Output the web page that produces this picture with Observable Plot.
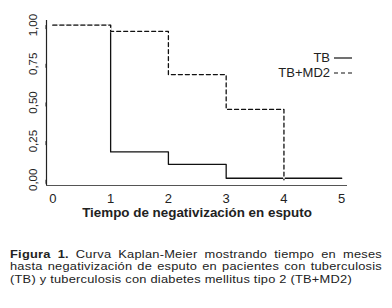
<!DOCTYPE html>
<html>
<head>
<meta charset="utf-8">
<script src="https://cdn.jsdelivr.net/npm/d3@7"></script>
<script src="https://cdn.jsdelivr.net/npm/@observablehq/plot@0.6"></script>
<style>
  html, body { margin: 0; padding: 0; background: #fff; }
  #wrap { position: relative; width: 392px; font-family: "Liberation Sans", Arial, sans-serif; }
  #legend { position: absolute; right: 40px; top: 50px; font-size: 13px; color: #222; }
  #legend .row { display: flex; align-items: center; justify-content: flex-end; height: 15px; }
  #legend svg { margin-left: 4px; }
  #caption { margin: 16px 0 0 10px; width: 310px; letter-spacing: 0.2px;
             transform: scaleX(1.2); transform-origin: 0 0;
             font-size: 10.7px; line-height: 12.3px; color: #222; }
  #caption .j { text-align: justify; text-align-last: justify; white-space: nowrap; }
  #caption b { font-weight: bold; }
</style>
</head>
<body>
<div id="wrap">
  <div id="chart"></div>
  <div id="legend"></div>
  <div id="caption"></div>
</div>
<script>
// Series
const seriesNames = ["TB", "TB+MD2"];
const tbTimes = [0, 1, 2, 3, 5];
const tbSurvival = [1, 0.18, 0.10, 0.01, 0.01];
const md2Times = [0, 1, 2, 3, 4];
const md2Survival = [1, 0.96, 0.68, 0.455, 0];
// Ticks
const xTicks = [0, 1, 2, 3, 4, 5];
const yTicks = [0, 0.25, 0.5, 0.75, 1];
const yTickLabels = ["0,00", "0,25", "0,50", "0,75", "1,00"];
const xLabel = "Tiempo de negativización en esputo";
// Caption lines
const captionLead = "Figura 1.";
const captionLines = [
  " Curva Kaplan-Meier mostrando tiempo en meses",
  "hasta negativización de esputo en pacientes con tuberculosis",
  "(TB) y tuberculosis con diabetes mellitus tipo 2 (TB+MD2)"
];

const tb = tbTimes.map((t, i) => ({t, s: tbSurvival[i]}));
const md2 = md2Times.map((t, i) => ({t, s: md2Survival[i]}));

const xDomain = [-0.11, 5.1];
const yDomain = [-0.037, 1.03];

const chart = Plot.plot({
  width: 392,
  height: 232,
  marginLeft: 46,
  marginRight: 45,
  marginTop: 20,
  marginBottom: 47,
  style: { fontFamily: "Liberation Sans, Arial, sans-serif", color: "#222", background: "#fff" },
  x: { domain: xDomain },
  y: { domain: yDomain },
  marks: [
    Plot.ruleY([yDomain[0]], { x1: xDomain[0], x2: xDomain[1], stroke: "#555", strokeWidth: 1.2 }),
    Plot.ruleX([xDomain[0]], { y1: yDomain[0], y2: yDomain[1], stroke: "#222", strokeWidth: 1.2 }),
    Plot.axisX({ ticks: xTicks, tickSize: 0, tickPadding: 8, fontSize: 13, label: null, tickFormat: d => String(d) }),
    Plot.axisY({ ticks: yTicks, tickSize: 4, tickPadding: 6, fontSize: 11.5, rotate: -90, textAnchor: "middle", lineAnchor: "bottom", label: null, tickFormat: d => yTickLabels[yTicks.indexOf(d)] }),
    Plot.line(tb, { x: "t", y: "s", curve: "step-after", stroke: "#111", strokeWidth: 1.3 }),
    Plot.line(md2, { x: "t", y: "s", curve: "step-after", stroke: "#fff", strokeWidth: 1.6 }),
    Plot.line(md2, { x: "t", y: "s", curve: "step-after", stroke: "#111", strokeWidth: 1.3, strokeDasharray: "4,3" }),
    Plot.text([xLabel], { frameAnchor: "bottom", dy: 31, fontWeight: "bold", fontSize: 13.4, fill: "#222" })
  ]
});
document.getElementById("chart").appendChild(chart);

// Legend
const legend = document.getElementById("legend");
const dashes = [null, "4,3"];
seriesNames.forEach((name, i) => {
  const row = document.createElement("div");
  row.className = "row";
  row.innerHTML = `<span>${name}</span><svg width="18" height="4"><line x1="0" x2="18" y1="2" y2="2" stroke="#111" stroke-width="1.2" ${dashes[i] ? `stroke-dasharray="${dashes[i]}"` : ""}/></svg>`;
  legend.appendChild(row);
});

// Caption
const caption = document.getElementById("caption");
captionLines.forEach((line, i) => {
  const div = document.createElement("div");
  if (i < 2) div.className = "j";
  if (i === 0) {
    const b = document.createElement("b");
    b.textContent = captionLead;
    div.appendChild(b);
  }
  div.appendChild(document.createTextNode(line));
  caption.appendChild(div);
});
</script>
</body>
</html>
